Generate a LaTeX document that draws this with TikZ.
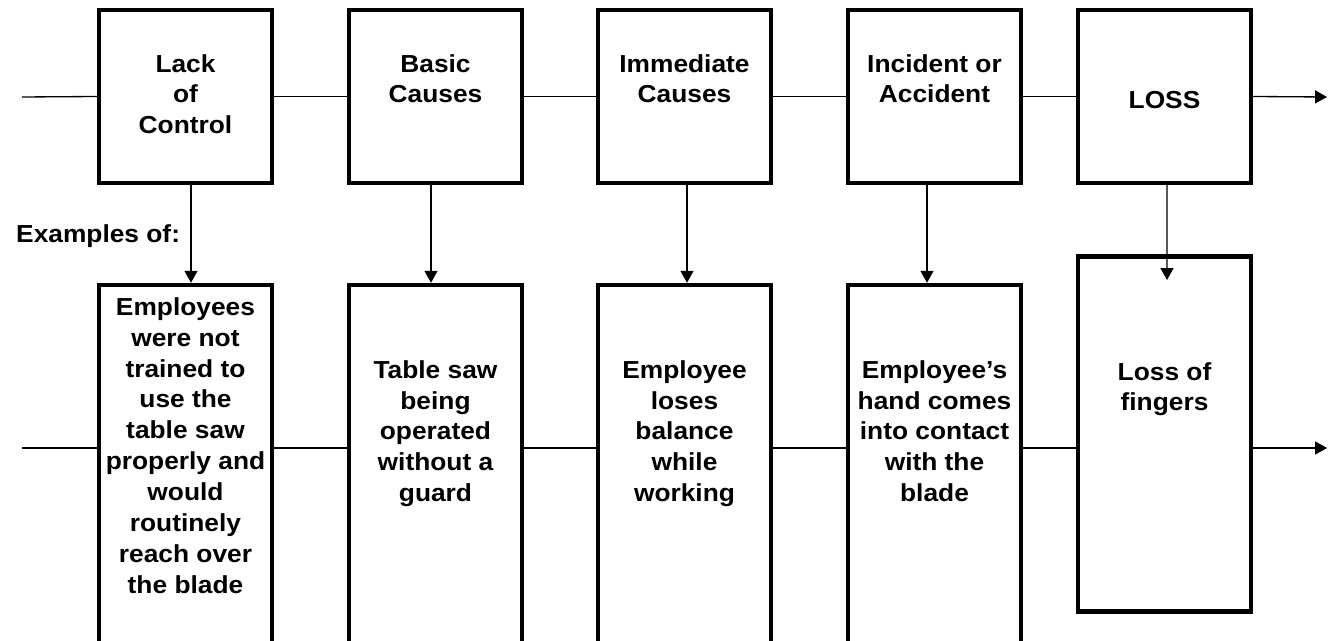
\documentclass[tikz,border=0pt]{standalone}
\usepackage{fontspec}
\setmainfont{Liberation Sans}[FakeStretch=1.07]
\usetikzlibrary{arrows.meta}

\begin{document}
\begin{tikzpicture}[
  font=\fontsize{14}{17.6}\selectfont\bfseries,
  stage/.style={draw, line width=2.55pt, minimum width=3.46cm, inner xsep=0pt, inner ysep=0pt, align=center},
  link/.style={line width=0.75pt},
  flow/.style={line width=0.75pt, -{Triangle[length=6.8pt,width=7.4pt]}}
]
\path[use as bounding box, clip] (0,0) rectangle (26.6,-12.82);

\node[stage, text height=2.478cm, text depth=0.982cm] (c1) at (3.71,-1.93) {Lack\\of\\Control};
\node[stage, text height=1.859cm, text depth=1.601cm] (c2) at (8.71,-1.93) {Basic\\Causes};
\node[stage, text height=1.859cm, text depth=1.601cm] (c3) at (13.69,-1.93) {Immediate\\Causes};
\node[stage, text height=1.859cm, text depth=1.601cm] (c4) at (18.69,-1.93) {Incident or\\Accident};
\node[stage, text height=1.98cm, text depth=1.48cm] (c5) at (23.29,-1.93) {LOSS};

\node[stage, text height=6.171cm, text depth=2.129cm] (e1) at (3.71,-9.85) {Employees\\were not\\trained to\\use the\\table saw\\properly and\\would\\routinely\\reach over\\the blade};
\node[stage, text height=4.336cm, text depth=3.964cm] (e2) at (8.71,-9.85) {Table saw\\being\\operated\\without a\\guard};
\node[stage, text height=4.336cm, text depth=3.964cm] (e3) at (13.69,-9.85) {Employee\\loses\\balance\\while\\working};
\node[stage, text height=4.336cm, text depth=3.964cm] (e4) at (18.69,-9.85) {Employee’s\\hand comes\\into contact\\with the\\blade};
\node[stage, text height=3.089cm, text depth=4.011cm] (e5) at (23.29,-8.68) {Loss of\\fingers};

\node[anchor=base west] (ex) at (0.2,-4.86) {Examples of:};

\coordinate (in1) at (0.44,-1.94);
\coordinate (out1) at (26.54,-1.94);
\coordinate (in2) at (0.44,-8.96);
\coordinate (out2) at (26.54,-8.96);
\coordinate (t5) at (23.34,-5.6);

% top row
\path[draw,link] (in1) -- (c1.west);
\path[draw,link] (c1.east) -- (c2.west);
\path[draw,link] (c2.east) -- (c3.west);
\path[draw,link] (c3.east) -- (c4.west);
\path[draw,link] (c4.east) -- (c5.west);
\path[draw,flow] (c5.east) -- (out1);

% bottom row
\path[draw,link] (in2) -- (e1.west |- in2);
\path[draw,link] (e1.east |- in2) -- (e2.west |- in2);
\path[draw,link] (e2.east |- in2) -- (e3.west |- in2);
\path[draw,link] (e3.east |- in2) -- (e4.west |- in2);
\path[draw,link] (e4.east |- in2) -- (e5.west |- in2);
\path[draw,flow] (e5.east |- in2) -- (out2);

% down arrows
\path[draw,flow] ([xshift=0.11cm]c1.south) -- ([xshift=0.11cm]e1.north);
\path[draw,flow] ([xshift=-0.09cm]c2.south) -- ([xshift=-0.09cm]e2.north);
\path[draw,flow] ([xshift=0.05cm]c3.south) -- ([xshift=0.05cm]e3.north);
\path[draw,flow] ([xshift=-0.15cm]c4.south) -- ([xshift=-0.15cm]e4.north);
\path[draw,flow] ([xshift=0.05cm]c5.south) -- (t5);
\end{tikzpicture}
\end{document}
